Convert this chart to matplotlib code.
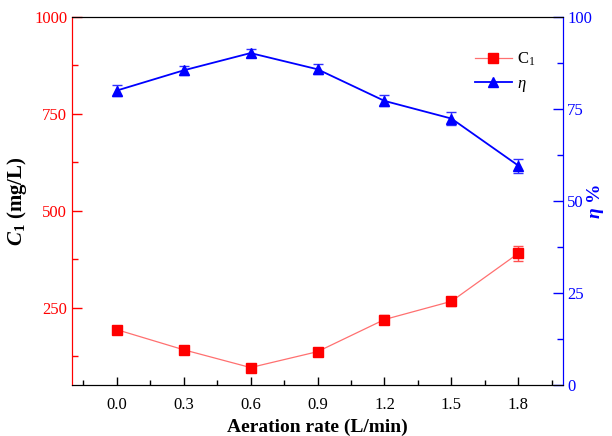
import matplotlib
matplotlib.use("Agg")
import matplotlib.pyplot as plt
from matplotlib.ticker import MultipleLocator
from matplotlib.lines import Line2D

plt.rcParams['font.family'] = 'Liberation Serif'
plt.rcParams['mathtext.fontset'] = 'custom'
plt.rcParams['mathtext.rm'] = 'Liberation Serif'
plt.rcParams['mathtext.it'] = 'Liberation Serif:italic'
plt.rcParams['mathtext.bf'] = 'Liberation Serif:bold'
plt.rcParams['mathtext.bfit'] = 'Liberation Serif:italic:bold'

# dati
aeration = [0.0, 0.3, 0.6, 0.9, 1.2, 1.5, 1.8]
c1 = [193, 141, 95, 136, 219, 266, 390]
c1_err = [10, 9, 8, 9, 12, 12, 19]
eta = [80.0, 85.5, 90.2, 85.8, 77.2, 72.4, 59.6]
eta_err = [1.4, 1.3, 1.2, 1.4, 1.5, 1.7, 1.9]

RED = '#ff0000'
BLUE = '#0000ff'

fig = plt.figure(figsize=(6.12, 4.36), dpi=100)
ax = fig.add_axes([0.1176, 0.117, 0.8024, 0.844])
ax2 = ax.twinx()

# -- C1 (asse sinistro)
ax.errorbar(aeration, c1, yerr=c1_err, color='#ff7070', lw=0.9, marker='s', ms=6.5,
            mfc=RED, mec=RED, ecolor='#ff5050', elinewidth=1, capsize=3.5, capthick=1,
            zorder=3)
# -- eta (asse destro)
ax2.errorbar(aeration, eta, yerr=eta_err, color=BLUE, lw=1.3, marker='^', ms=7.5,
             mfc=BLUE, mec=BLUE, ecolor='#3030ff', elinewidth=1, capsize=3.5, capthick=1,
             zorder=3)

ax.set_xlim(-0.2, 2.0)
ax.set_ylim(50, 1000)
ax2.set_ylim(0, 100)

ax.set_xticks(aeration)
ax.set_xticklabels([f'{v:.1f}' for v in aeration])
ax.xaxis.set_minor_locator(MultipleLocator(0.15))
ax.yaxis.set_major_locator(MultipleLocator(250))
ax.yaxis.set_minor_locator(MultipleLocator(125))
ax2.yaxis.set_major_locator(MultipleLocator(25))
ax2.yaxis.set_minor_locator(MultipleLocator(12.5))

ax.tick_params(axis='x', which='major', direction='in', length=6, width=1, labelsize=12, pad=9)
ax.tick_params(axis='x', which='minor', direction='in', length=3.5, width=1)
ax.tick_params(axis='y', which='major', direction='in', length=7, width=1, color=RED,
               labelcolor=RED, labelsize=12)
ax.tick_params(axis='y', which='minor', direction='in', length=4, width=1, color=RED)
ax2.tick_params(axis='y', which='major', direction='in', length=7, width=1, color=BLUE,
                labelcolor=BLUE, labelsize=12, pad=3)
ax2.tick_params(axis='y', which='minor', direction='in', length=4, width=1, color=BLUE)

for a in (ax, ax2):
    a.spines['left'].set_color(RED)
    a.spines['right'].set_color(BLUE)
    a.spines['top'].set_color('black')
    a.spines['bottom'].set_color('black')

ax.set_xlabel('Aeration rate (L/min)', fontsize=14, fontweight='bold', labelpad=4)
ax.set_ylabel(r'$\mathbfit{C}_{\mathbf{1}}$ (mg/L)', fontsize=15, fontweight='bold')
ax.yaxis.set_label_coords(-0.088, 0.5)
ax2.set_ylabel(r'$\mathbfit{\eta}$ %', fontsize=14, fontweight='bold', color=BLUE,
               rotation=90, va='center')
ax2.yaxis.set_label_coords(1.066, 0.5)

handles = [Line2D([], [], color='#ff7070', lw=0.9, marker='s', ms=6.5, mfc=RED, mec=RED),
           Line2D([], [], color=BLUE, lw=1.3, marker='^', ms=7.5, mfc=BLUE, mec=BLUE)]
ax.legend(handles, [r'C$_1$', r'$\eta$'], loc='upper left', bbox_to_anchor=(0.79, 0.95),
          frameon=False, fontsize=12, handlelength=2.2, handletextpad=0.3, labelspacing=0.5)

fig.savefig('out.png', dpi=100)
